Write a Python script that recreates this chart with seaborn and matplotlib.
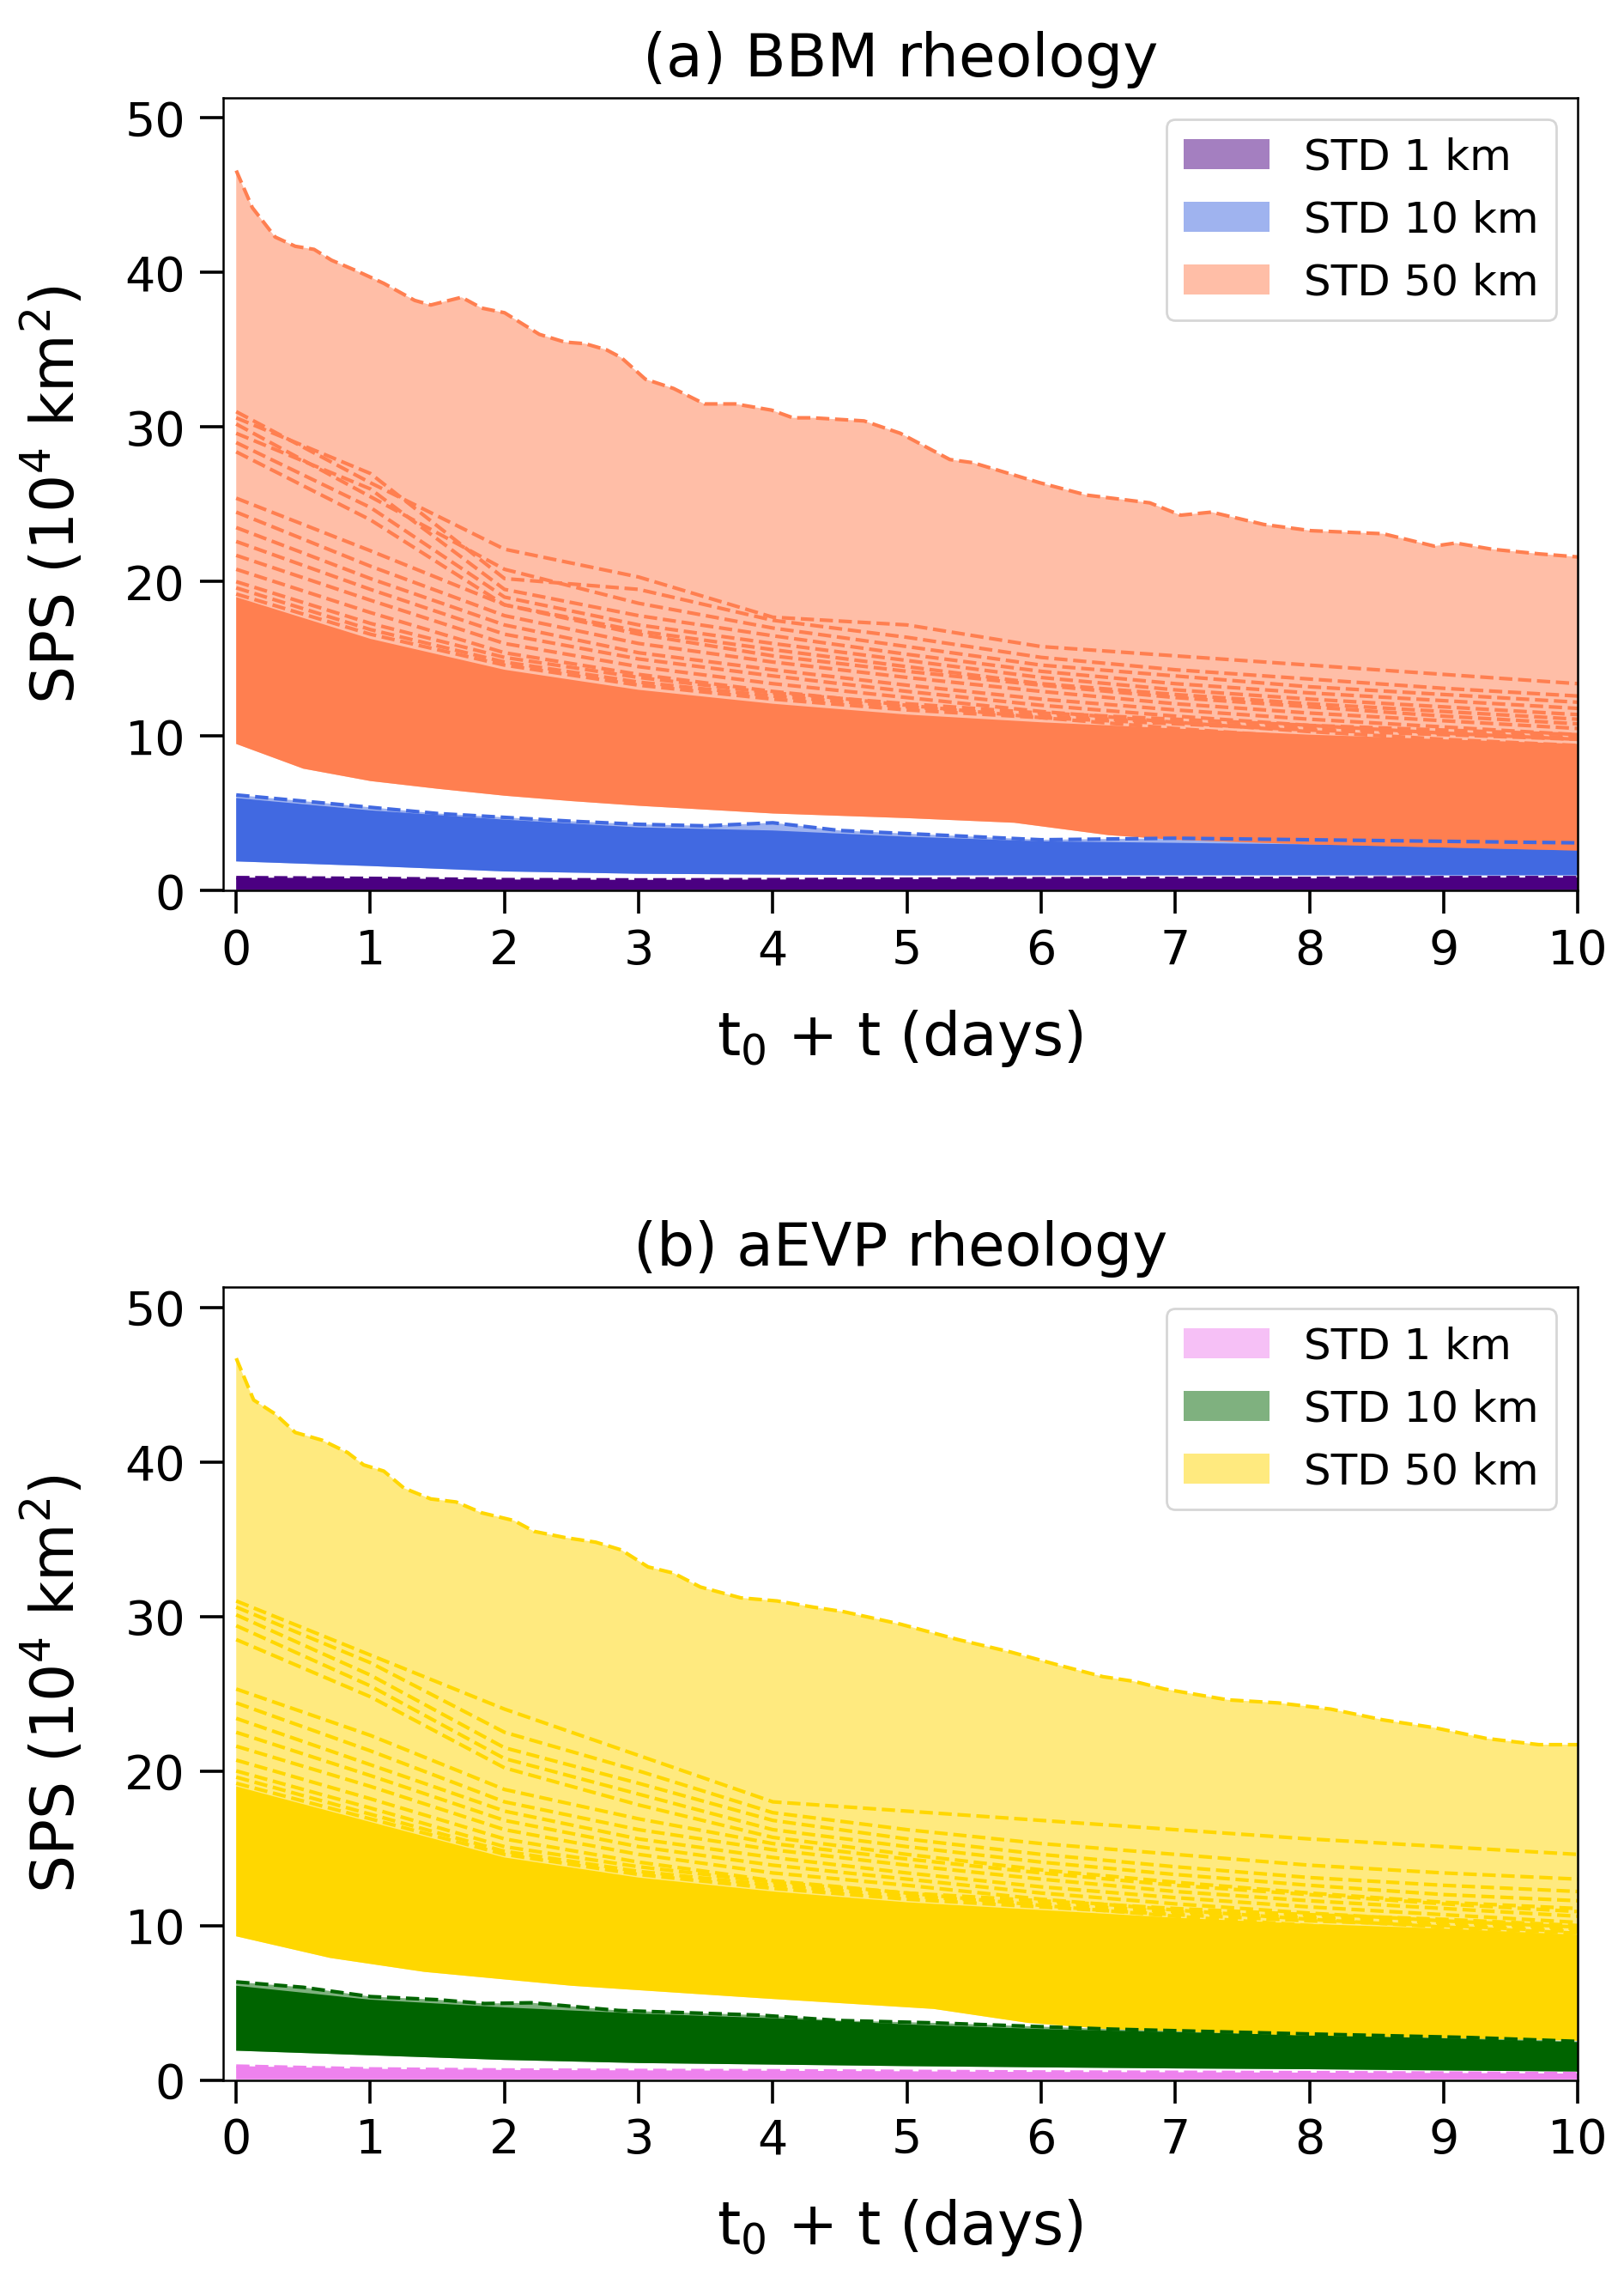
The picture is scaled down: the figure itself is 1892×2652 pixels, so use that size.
import numpy as np
import pandas as pd
import matplotlib
matplotlib.use("Agg")
import matplotlib.pyplot as plt
import seaborn as sns

# jours (grille des membres)
days = [0, 1, 2, 3, 4, 5, 6, 7, 8, 9, 10]
labels = ["STD 1 km", "STD 10 km", "STD 50 km"]

# ---- (a) BBM ----
bbm_colors = ["indigo", "royalblue", "coral"]

bbm50_max_t = [0.0, 0.12, 0.29, 0.44, 0.58, 0.71, 0.9, 1.1, 1.33, 1.45, 1.68, 1.83, 2.0, 2.26, 2.45,
               2.6, 2.76, 2.87, 3.05, 3.26, 3.49, 3.72, 3.99, 4.15, 4.3, 4.68, 4.95, 5.32, 5.49, 5.99,
               6.34, 6.81, 7.04, 7.27, 7.66, 8.01, 8.55, 8.93, 9.09, 9.36, 9.71, 10.0]
bbm50_max_v = [46.6, 44.2, 42.3, 41.7, 41.5, 40.8, 40.1, 39.3, 38.2, 37.9, 38.4, 37.7, 37.4, 36.0, 35.5,
               35.4, 35.0, 34.5, 33.1, 32.5, 31.5, 31.5, 31.1, 30.6, 30.6, 30.4, 29.6, 27.9, 27.7, 26.4,
               25.6, 25.1, 24.3, 24.5, 23.7, 23.3, 23.1, 22.3, 22.5, 22.1, 21.8, 21.6]
bbm50_min_t = [0, 0.5, 1, 1.5, 2, 2.5, 3, 4, 5, 5.8, 6.5, 7, 8, 9, 10]
bbm50_min_v = [9.5, 7.9, 7.1, 6.6, 6.15, 5.8, 5.5, 5.0, 4.7, 4.4, 3.6, 3.3, 3.0, 2.8, 2.6]
bbm50_core = [19.0, 16.3, 14.3, 13.0, 12.1, 11.4, 10.9, 10.5, 10.1, 9.8, 9.5]
bbm50_members = [
    [31.0, 26.4, 22.1, 20.3, 17.7, 17.2, 15.8, 15.2, 14.6, 14.0, 13.4],
    [30.6, 27.0, 20.2, 19.5, 17.5, 16.4, 15.1, 14.3, 13.7, 13.1, 12.6],
    [30.2, 25.5, 20.8, 18.6, 17.0, 15.8, 14.6, 13.9, 13.2, 12.7, 12.2],
    [29.6, 26.0, 19.5, 17.8, 16.5, 15.3, 14.2, 13.4, 12.8, 12.3, 11.8],
    [29.0, 24.8, 19.0, 17.2, 16.0, 14.9, 13.8, 13.0, 12.4, 11.9, 11.4],
    [28.4, 24.0, 18.5, 16.8, 15.6, 14.5, 13.4, 12.7, 12.1, 11.6, 11.1],
    [25.4, 22.0, 18.5, 16.6, 15.2, 14.2, 13.3, 12.5, 11.9, 11.3, 10.8],
    [24.5, 21.0, 17.8, 16.0, 14.8, 13.8, 12.9, 12.1, 11.5, 11.0, 10.5],
    [23.5, 20.2, 17.2, 15.4, 14.3, 13.3, 12.4, 11.7, 11.1, 10.6, 10.1],
    [22.6, 19.5, 16.6, 15.0, 13.9, 12.9, 12.0, 11.3, 10.7, 10.2, 9.8],
    [21.7, 18.8, 16.0, 14.5, 13.4, 12.5, 11.6, 10.9, 10.3, 9.8, 9.4],
    [20.8, 18.0, 15.4, 14.0, 12.9, 12.0, 11.2, 10.5, 9.9, 9.4, 9.0],
    [20.0, 17.3, 15.1, 13.8, 12.8, 12.1, 11.5, 11.1, 10.7, 10.4, 10.1],
    [19.6, 16.9, 14.8, 13.5, 12.6, 11.9, 11.3, 10.9, 10.5, 10.2, 9.9],
    [19.2, 16.6, 14.6, 13.3, 12.4, 11.7, 11.2, 10.8, 10.4, 10.1, 9.8],
]

bbm10_max_t = [0, 0.5, 1, 1.5, 2, 2.5, 3, 3.5, 4, 4.5, 5, 5.5, 6, 7, 8, 9, 10]
bbm10_max_v = [6.2, 5.8, 5.4, 5.0, 4.75, 4.5, 4.3, 4.2, 4.4, 3.9, 3.7, 3.5, 3.3, 3.4, 3.3, 3.2, 3.1]
bbm10_min_v = [1.9, 1.6, 1.25, 1.1, 1.05, 1.0, 1.0, 1.0, 1.0, 1.0, 1.0]
bbm10_core = [6.0, 5.2, 4.6, 4.1, 3.9, 3.5, 3.2, 3.1, 3.0, 2.9, 2.8]

bbm1_max_v = [0.85, 0.8, 0.72, 0.7, 0.72, 0.75, 0.78, 0.8, 0.8, 0.85, 0.85]
bbm1_min_v = [0.05, 0.05, 0.05, 0.05, 0.05, 0.05, 0.05, 0.05, 0.05, 0.05, 0.05]

# ---- (b) aEVP ----
aevp_colors = ["violet", "darkgreen", "gold"]

aevp50_max_t = [0.0, 0.13, 0.29, 0.44, 0.64, 0.83, 0.95, 1.1, 1.25, 1.45, 1.64, 1.83, 2.07, 2.22, 2.45,
                2.68, 2.87, 3.07, 3.26, 3.46, 3.76, 4.03, 4.3, 4.53, 4.95, 5.38, 5.77, 6.15, 6.46, 6.69,
                6.92, 7.39, 7.77, 8.16, 8.55, 8.93, 9.32, 9.71, 10.0]
aevp50_max_v = [46.7, 44.0, 43.1, 41.9, 41.4, 40.6, 39.8, 39.4, 38.3, 37.6, 37.4, 36.7, 36.2, 35.5, 35.1,
                34.8, 34.3, 33.2, 32.8, 31.9, 31.2, 31.0, 30.6, 30.3, 29.5, 28.5, 27.7, 26.8, 26.1, 25.8,
                25.3, 24.6, 24.4, 24.0, 23.3, 22.8, 22.1, 21.7, 21.7]
aevp50_min_t = [0, 0.7, 1.4, 2.5, 3.9, 5.2, 5.9, 6.5, 7.9, 8.6, 10]
aevp50_min_v = [9.3, 7.9, 7.0, 6.1, 5.3, 4.6, 3.7, 3.3, 2.9, 2.8, 2.55]
aevp50_core = [19.0, 16.7, 14.4, 13.1, 12.2, 11.5, 11.0, 10.5, 10.1, 9.8, 9.4]
aevp50_members = [
    [31.0, 27.5, 24.0, 21.0, 18.0, 17.4, 16.8, 16.2, 15.6, 15.1, 14.6],
    [30.6, 27.0, 22.5, 20.0, 17.3, 16.2, 15.3, 14.6, 13.9, 13.4, 13.0],
    [30.1, 26.2, 21.5, 19.2, 16.8, 15.6, 14.6, 13.8, 13.1, 12.6, 12.2],
    [29.4, 25.5, 20.8, 18.5, 16.2, 15.1, 14.1, 13.3, 12.6, 12.0, 11.6],
    [28.5, 24.8, 20.2, 17.8, 15.7, 14.6, 13.6, 12.8, 12.1, 11.5, 11.1],
    [25.3, 22.3, 18.8, 16.9, 15.3, 14.3, 13.4, 12.6, 12.0, 11.4, 10.9],
    [24.4, 21.3, 18.0, 16.2, 14.9, 13.9, 13.0, 12.2, 11.6, 11.1, 10.6],
    [23.4, 20.4, 17.4, 15.6, 14.4, 13.4, 12.5, 11.8, 11.2, 10.7, 10.2],
    [22.5, 19.7, 16.8, 15.1, 13.9, 13.0, 12.1, 11.4, 10.8, 10.3, 9.9],
    [21.6, 19.0, 16.2, 14.6, 13.4, 12.6, 11.7, 11.0, 10.4, 9.9, 9.5],
    [20.7, 18.2, 15.6, 14.1, 12.9, 12.1, 11.3, 10.6, 10.0, 9.5, 9.1],
    [20.0, 17.6, 15.1, 13.8, 12.8, 12.1, 11.6, 11.1, 10.7, 10.4, 10.0],
    [19.6, 17.2, 14.8, 13.5, 12.6, 11.9, 11.4, 10.9, 10.5, 10.2, 9.8],
    [19.2, 16.9, 14.6, 13.3, 12.4, 11.7, 11.2, 10.7, 10.3, 10.0, 9.6],
]

aevp10_max_t = [0, 0.5, 1.0, 1.5, 1.85, 2.2, 2.85, 3.9, 4.5, 5.2, 6.5, 7.9, 9.2, 10]
aevp10_max_v = [6.35, 6.0, 5.4, 5.2, 4.95, 5.0, 4.5, 4.2, 3.85, 3.7, 3.3, 3.0, 2.75, 2.5]
aevp10_min_v = [1.9, 1.6, 1.3, 1.1, 1.0, 0.9, 0.82, 0.75, 0.7, 0.62, 0.55]
aevp10_core = [6.1, 5.2, 4.7, 4.3, 4.0, 3.6, 3.3, 3.1, 2.9, 2.7, 2.45]

aevp1_max_v = [0.9, 0.72, 0.65, 0.62, 0.6, 0.56, 0.52, 0.5, 0.48, 0.45, 0.42]
aevp1_min_v = [0.05, 0.05, 0.05, 0.05, 0.05, 0.05, 0.05, 0.05, 0.05, 0.05, 0.05]


def envelope(ax, t_up, v_up, t_lo, v_lo, color, label=None):
    # zone claire entre min et max
    xs = list(t_up) + list(t_lo)[::-1]
    ys = list(v_up) + list(v_lo)[::-1]
    return ax.fill(xs, ys, color=color, alpha=0.5, lw=0, label=label)[0]


def core(ax, v_up, t_lo, v_lo, color):
    # zone dense des membres superposés
    xs = list(days) + list(t_lo)[::-1]
    ys = list(v_up) + list(v_lo)[::-1]
    ax.fill(xs, ys, color=color, lw=0)


def members(ax, curves, color):
    df = pd.DataFrame({
        "day": days * len(curves),
        "sps": [v for c in curves for v in c],
        "member": [i for i, c in enumerate(curves) for _ in c],
    })
    sns.lineplot(data=df, x="day", y="sps", units="member", estimator=None,
                 color=color, linestyle="--", lw=1.5, legend=False, ax=ax)


sns.set_theme(context="notebook", style="ticks")
plt.rcParams["font.family"] = ["DejaVu Sans"]
plt.rcParams["mathtext.default"] = "regular"
plt.rcParams["axes.linewidth"] = 0.9
for key in ["text.color", "axes.labelcolor", "xtick.color", "ytick.color", "axes.edgecolor"]:
    plt.rcParams[key] = "black"

fig, axes = plt.subplots(2, 1, figsize=(9.46, 13.26), dpi=200)
fig.subplots_adjust(left=0.1372, right=0.9715, top=0.957, bottom=0.0865, hspace=0.5)

panels = [
    dict(ax=axes[0], title="(a) BBM rheology", colors=bbm_colors,
         g1=(bbm1_max_v, bbm1_min_v),
         g10=(bbm10_max_t, bbm10_max_v, bbm10_min_v, bbm10_core),
         g50=(bbm50_max_t, bbm50_max_v, bbm50_min_t, bbm50_min_v, bbm50_core, bbm50_members)),
    dict(ax=axes[1], title="(b) aEVP rheology", colors=aevp_colors,
         g1=(aevp1_max_v, aevp1_min_v),
         g10=(aevp10_max_t, aevp10_max_v, aevp10_min_v, aevp10_core),
         g50=(aevp50_max_t, aevp50_max_v, aevp50_min_t, aevp50_min_v, aevp50_core, aevp50_members)),
]

for p in panels:
    ax = p["ax"]
    c1, c10, c50 = p["colors"]

    # 1 km
    mx, mn = p["g1"]
    h1 = envelope(ax, days, mx, days, mn, c1, labels[0])
    core(ax, mx, days, mn, c1)
    ax.plot(days, mx, ls="--", color=c1, lw=1.5)

    # 10 km
    tx, mx, mn, cr = p["g10"]
    h10 = envelope(ax, tx, mx, days, mn, c10, labels[1])
    core(ax, cr, days, mn, c10)
    ax.plot(tx, mx, ls="--", color=c10, lw=1.5)

    # 50 km
    tx, mx, tn, mn, cr, mem = p["g50"]
    h50 = envelope(ax, tx, mx, tn, mn, c50, labels[2])
    core(ax, cr, tn, mn, c50)
    members(ax, mem, c50)
    ax.plot(tx, mx, ls="--", color=c50, lw=1.5)

    ax.set_xlim(-0.1, 10)
    ax.set_ylim(0, 51.3)
    ax.set_xticks(range(0, 11))
    ax.set_yticks(range(0, 51, 10))
    ax.tick_params(axis="both", labelsize=20, length=9.7, width=1.3, pad=6)
    ax.set_title(p["title"], fontsize=25, pad=9)
    ax.set_xlabel("$t_0$ + t (days)", fontsize=25, labelpad=14)
    ax.set_ylabel("SPS ($10^4$ km$^2$)", fontsize=25, labelpad=16)
    ax.legend(handles=[h1, h10, h50], labels=labels, loc="upper right", fontsize=18)

fig.savefig("out.png", dpi=200)
